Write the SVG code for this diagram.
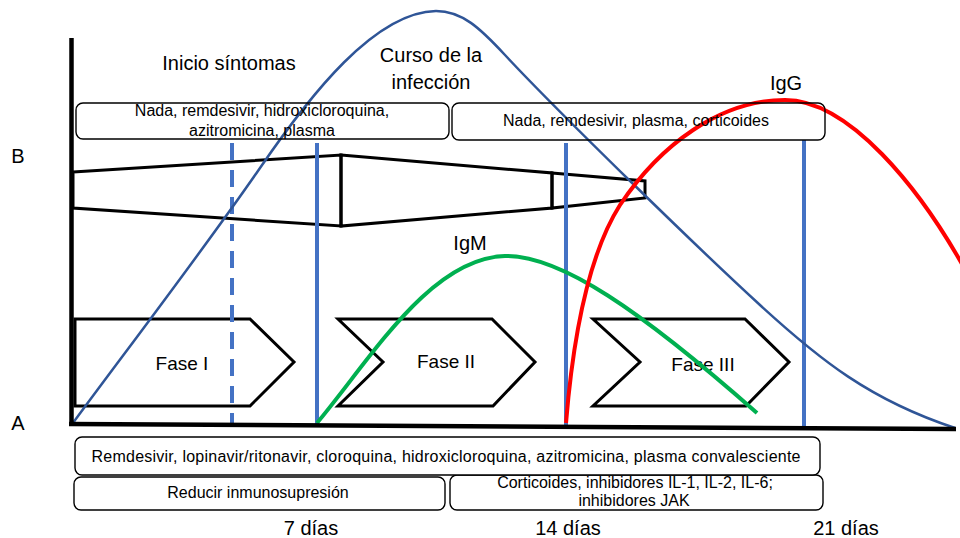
<svg xmlns="http://www.w3.org/2000/svg" width="960" height="538" viewBox="0 0 960 538">
<style>
.t{font-family:"Liberation Sans",Arial,sans-serif;fill:#000;text-anchor:middle}
.big{font-size:20px}
.fase{font-size:19px}
.sm{font-size:16px}
.box{fill:none;stroke:#000;stroke-width:1.4}
.boxw{fill:#fff;stroke:#000;stroke-width:1.4}
.shape{fill:none;stroke:#000;stroke-width:3;stroke-linejoin:miter}
.vl{stroke:#4472C4;stroke-width:4;fill:none}
.ax{stroke:#000;stroke-width:4.5;fill:none}
</style>
<rect width="960" height="538" fill="#fff"/>

<g id="funnel">
<polygon class="shape" points="73,172 341,155 341,226 73,208"/>
<polygon class="shape" points="341,155 552,173 552,208 341,226"/>
<polygon class="shape" points="552,173 645,181 645,198 552,208"/>
</g>

<g id="fase1">
<polygon class="shape" points="75,319 250,319 294,362 250,406 75,406"/>
<text class="t fase" x="182" y="370">Fase I</text>
</g>
<g id="fase2">
<polygon class="shape" points="338,319 492,319 535,362 493,406 338,406 383,362"/>
<text class="t fase" x="446" y="368">Fase II</text>
</g>
<g id="fase3">
<polygon class="shape" points="593,319 745,319 789,362 746,406 593,406 640,362"/>
<text class="t fase" x="703" y="371">Fase III</text>
</g>

<g id="connectors">
<line class="vl" x1="232" y1="143" x2="232" y2="424" stroke-dasharray="17,10"/>
<line class="vl" x1="317" y1="143" x2="317" y2="424"/>
<line class="vl" x1="566" y1="143" x2="566" y2="426"/>
<line class="vl" x1="804" y1="140" x2="804" y2="428"/>
<path id="infeccion" d="M73,423 C110,372 200,255 260,168 C310,95 375,12 436,11 C462,11 480,28 505,55 C560,114 700,250 760,305 C820,360 870,400 955,428" fill="none" stroke="#2F5597" stroke-width="2.5"/>
<path id="igm" d="M317,423 C370,360 430,258 505,256 C560,255 640,310 757,413" fill="none" stroke="#00B050" stroke-width="4"/>
<path id="igg" d="M566,423 C572,350 585,260 620,205 C660,145 720,100 785,100 C850,100 920,190 962,264" fill="none" stroke="#FF0000" stroke-width="4"/>
<line class="ax" x1="71.5" y1="38" x2="71.5" y2="426"/>
<line class="ax" x1="69" y1="424" x2="956" y2="429"/>
</g>

<g id="box-top1">
<rect class="box" x="76" y="103" width="373" height="36" rx="7"/>
<text class="t sm" x="262" y="116">Nada, remdesivir, hidroxicloroquina,</text>
<text class="t sm" x="262" y="136">azitromicina, plasma</text>
</g>
<g id="box-top2">
<rect class="box" x="452" y="103" width="373" height="37" rx="7"/>
<text class="t sm" x="636" y="126">Nada, remdesivir, plasma, corticoides</text>
</g>

<g id="box-bot3">
<rect class="box" x="450" y="475" width="373" height="35" rx="7"/>
<text class="t sm" x="635" y="488">Corticoides, inhibidores IL-1, IL-2, IL-6;</text>
<text class="t sm" x="634" y="506">inhibidores JAK</text>
</g>
<g id="box-bot2">
<rect class="box" x="74" y="477" width="371" height="33" rx="7"/>
<text class="t sm" x="258" y="498">Reducir inmunosupresión</text>
</g>
<g id="box-bot1">
<rect class="boxw" x="75" y="437" width="745" height="38" rx="7"/>
<text class="t sm" x="446" y="462" textLength="709" lengthAdjust="spacing">Remdesivir, lopinavir/ritonavir, cloroquina, hidroxicloroquina, azitromicina, plasma convalesciente</text>
</g>

<g id="labels">
<text class="t big" x="229" y="70">Inicio síntomas</text>
<text class="t big" x="431" y="62">Curso de la</text>
<text class="t big" x="431" y="89">infección</text>
<text class="t big" x="786" y="90">IgG</text>
<text class="t big" x="470" y="250">IgM</text>
<text class="t big" x="18" y="163">B</text>
<text class="t big" x="18" y="430">A</text>
<text class="t big" x="311" y="535">7 días</text>
<text class="t big" x="568" y="535">14 días</text>
<text class="t big" x="846" y="535">21 días</text>
</g>
</svg>
